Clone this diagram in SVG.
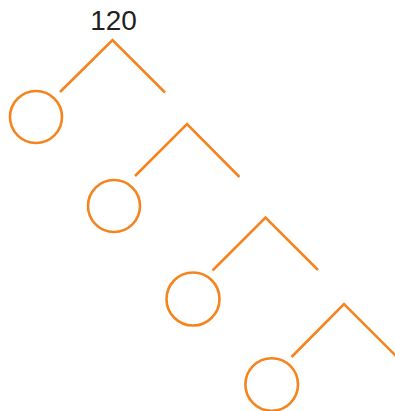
<svg xmlns="http://www.w3.org/2000/svg" width="395" height="411" viewBox="0 0 395 411">
<style>
.l{stroke:#f5841f;stroke-width:2.6;fill:none}
.c{stroke:#f5841f;stroke-width:2.6;fill:none}
.t{font-family:"Liberation Sans",Arial,sans-serif;font-size:28px;fill:#231f20;text-anchor:middle}
</style>
<rect width="395" height="411" fill="#fff"/>
<text class="t" x="113.5" y="30">120</text>
<g id="connectors">
<polyline class="l" points="60,92 112.5,40 165,92.5"/>
<polyline class="l" points="135,176 187,124 239.5,177"/>
<polyline class="l" points="212.5,270.5 265.5,217.5 318,270"/>
<polyline class="l" points="291.5,357 344,304 397,357"/>
</g>
<g id="n1"><circle class="c" cx="36" cy="117" r="26"/></g>
<g id="n2"><circle class="c" cx="114" cy="206" r="26"/></g>
<g id="n3"><circle class="c" cx="193" cy="299" r="26.5"/></g>
<g id="n4"><circle class="c" cx="271.7" cy="384.5" r="26.3"/></g>
</svg>
